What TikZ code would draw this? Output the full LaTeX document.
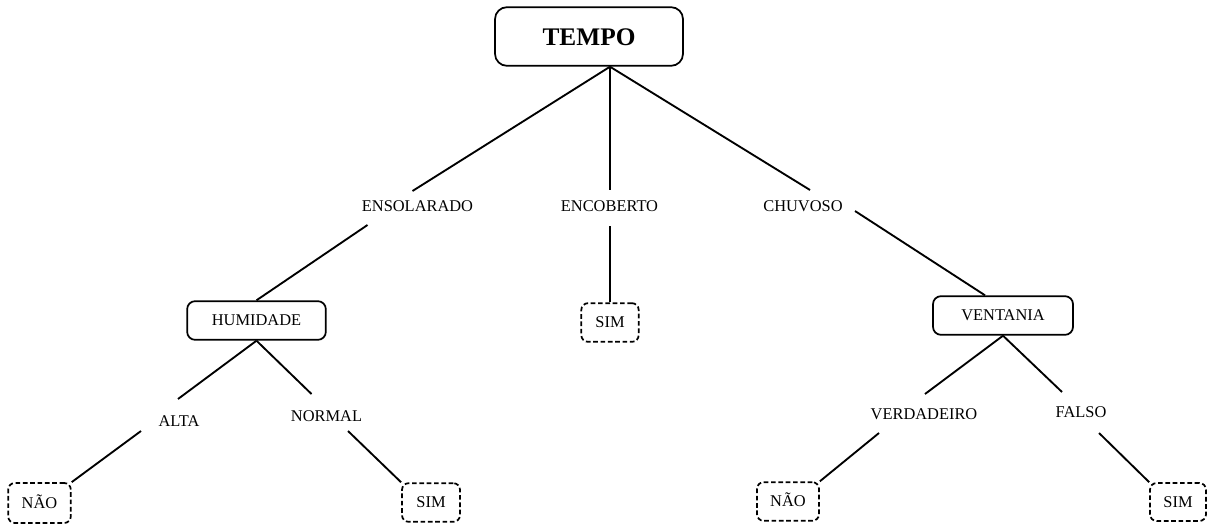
\documentclass[tikz,border=0pt]{standalone}
\usepackage{fontspec}
\setmainfont{Liberation Serif}
\usetikzlibrary{calc}
\begin{document}
\begin{tikzpicture}[x=0.75pt, y=-0.75pt, line width=1.3pt,
  txt/.style={font=\fontsize{12.3}{14}\selectfont, text height=8pt, text depth=0pt, inner sep=0pt},
  box/.style={txt, draw, rounded corners=6pt},
  leaf/.style={box, rounded corners=5pt, dash pattern=on 3.5pt off 2pt},
  lbl/.style={txt},
  link/.style={line width=1.4pt}]
\useasboundingbox (0,0) rectangle (1209,524);

% root
\node[box, rounded corners=9pt, font=\bfseries\fontsize{19}{22}\selectfont, text height=13pt,
      minimum width=141pt, minimum height=44pt] (tempo) at (589,36.5) {TEMPO};

% first level
\node[lbl] (enso) at (417.5,206) {ENSOLARADO};
\node[lbl] (enco) at (609.5,206) {ENCOBERTO};
\node[lbl] (chuv) at (803,206) {CHUVOSO};

% second level
\node[box, minimum width=104pt, minimum height=29pt] (hum) at (256.5,320.5) {HUMIDADE};
\node[leaf, minimum width=43pt, minimum height=29pt] (simc) at (610,322.5) {SIM};
\node[box, minimum width=105pt, minimum height=29pt] (vent) at (1003,315.5) {VENTANIA};

% attribute values
\node[lbl] (alta) at (179,421) {ALTA};
\node[lbl] (norm) at (326.5,416) {NORMAL};
\node[lbl] (verd) at (924,414) {VERDADEIRO};
\node[lbl] (fals) at (1081,412) {FALSO};

% leaves
\node[leaf, minimum width=47pt, minimum height=30pt] (naol) at (39.5,503) {NÃO};
\node[leaf, minimum width=43.5pt, minimum height=29pt] (siml) at (431,502.5) {SIM};
\node[leaf, minimum width=46.5pt, minimum height=29pt] (naor) at (788,501.5) {NÃO};
\node[leaf, minimum width=42pt, minimum height=28.5pt] (simr) at (1178,502) {SIM};

% branches
\coordinate (apex) at ($(tempo.south)+(21,0)$);
\draw[link] (apex) -- ($(enso)+(-5,-15)$);
\draw[link] (apex) -- ($(enco)+(0.5,-16)$);
\draw[link] (apex) -- ($(chuv)+(7,-16)$);

\draw[link] ($(enso)+(-50,19)$) -- (hum.north);
\draw[link] ($(enco)+(0.5,20)$) -- (simc.north);
\draw[link] ($(chuv)+(52,5)$) -- ($(vent.north)+(-18,0)$);

\draw[link] (hum.south) -- ($(alta)+(-1,-22)$);
\draw[link] (hum.south) -- ($(norm)+(-15,-22)$);
\draw[link] ($(alta)+(-38,10)$) -- (naol.north east);
\draw[link] ($(norm)+(21.5,15)$) -- (siml.north west);

\draw[link] (vent.south) -- ($(verd)+(1,-20)$);
\draw[link] (vent.south) -- ($(fals)+(-19,-20)$);
\draw[link] ($(verd)+(-45,19)$) -- (naor.north east);
\draw[link] ($(fals)+(18,21)$) -- (simr.north west);
\end{tikzpicture}
\end{document}
